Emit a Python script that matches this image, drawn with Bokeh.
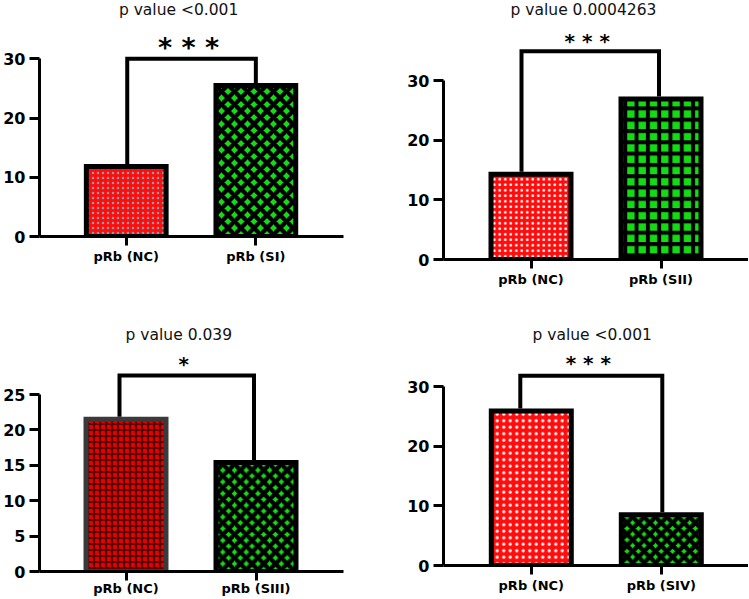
from bokeh.plotting import figure
from bokeh.layouts import column, row
from bokeh.models import Range1d, FixedTicker
from bokeh.core.properties import value
from bokeh.embed import file_html
from bokeh.resources import INLINE

# ---------------- data ----------------
categories_1 = ["pRb (NC)", "pRb (SI)"]
values_1 = [11.8, 25.5]
categories_2 = ["pRb (NC)", "pRb (SII)"]
values_2 = [14.3, 26.9]
categories_3 = ["pRb (NC)", "pRb (SIII)"]
values_3 = [21.5, 15.4]
categories_4 = ["pRb (NC)", "pRb (SIV)"]
values_4 = [25.9, 8.5]

y_ticks_1 = [0, 10, 20, 30]
y_ticks_2 = [0, 10, 20, 30]
y_ticks_3 = [0, 5, 10, 15, 20, 25]
y_ticks_4 = [0, 10, 20, 30]

titles = ["p value <0.001", "p value 0.0004263", "p value 0.039", "p value <0.001"]
stars = ["* * *", "* * *", "*", "* * *"]
bracket_heights = [30.0, 34.9, 27.7, 31.8]

# ---------------- styles / geometry ----------------
RED = "#ff0d0d"
GREEN = "#14dc14"
PITCH = 130.0          # px between category centres
BAR_PX = 80.0          # bar width in px (outline centre)
FONT = "DejaVu Sans"

# all pixel numbers are relative to each figure's top-left corner
geoms = [
    dict(w=370, h=300, fl=38, ay=236, tt=58.3, c0=125.0, xend=343, tx=177.5, ty=9, sy=42.7, ss=27,
         bdx=(1, 0), lso=3),
    dict(w=378, h=300, fl=73, ay=259, tt=80.0, c0=160.5, xend=None, tx=213, ty=9, sy=37.0, ss=20,
         bdx=(-9.5, -2), lso=3),
    dict(w=370, h=299, fl=39, ay=271, tt=94.0, c0=125.5, xend=343, tx=178.3, ty=34, sy=60, ss=20,
         bdx=(-6.5, -2), lso=0),
    dict(w=378, h=299, fl=73, ay=265, tt=86.0, c0=160.8, xend=None, tx=221.7, ty=34, sy=59.5, ss=20,
         bdx=(-11, 1), lso=3),
]

bar_styles = [
    [dict(fill_color=RED, hatch_pattern=".", hatch_color="#5fc8d8", hatch_alpha=0.8, hatch_scale=5, hatch_weight=0.3, line_color="#000000"),
     dict(fill_color=GREEN, hatch_pattern="x", hatch_color="#000000", hatch_scale=13, hatch_weight=4.3, line_color="#000000")],
    [dict(fill_color=RED, hatch_pattern=".", hatch_color="#ffffff", hatch_scale=5.5, hatch_weight=0.3, line_color="#000000"),
     dict(fill_color=GREEN, hatch_pattern="+", hatch_color="#000000", hatch_scale=11.3, hatch_weight=4, line_color="#000000")],
    [dict(fill_color="#e80000", hatch_pattern="+", hatch_color="#5a0000", hatch_scale=6, hatch_weight=2.2, line_color="#3a3a3a"),
     dict(fill_color=GREEN, hatch_pattern="x", hatch_color="#000000", hatch_scale=11.7, hatch_weight=4.3, line_color="#000000")],
    [dict(fill_color=RED, hatch_pattern=".", hatch_color="#ffffff", hatch_scale=6.5, hatch_weight=0.3, line_color="#000000"),
     dict(fill_color=GREEN, hatch_pattern="x", hatch_color="#000000", hatch_scale=11.4, hatch_weight=4.3, line_color="#000000")],
]


def style_axis(ax, size, tick_out, standoff):
    ax.axis_label = None
    ax.axis_label_standoff = 0
    ax.axis_line_width = 3
    ax.major_tick_line_width = 3
    ax.major_tick_out = tick_out
    ax.major_tick_in = 0
    ax.minor_tick_line_color = None
    ax.major_label_standoff = standoff
    ax.major_label_text_font = FONT
    ax.major_label_text_font_style = "bold"
    ax.major_label_text_font_size = size
    ax.major_label_text_color = "black"
    ax.major_label_text_line_height = 1.0


def make_panel(cats, vals, ticks, title, star, bracket, g, styles):
    tmax = ticks[-1]
    s = (g["ay"] - g["tt"]) / tmax            # px per unit
    x0 = -(g["c0"] - g["fl"]) / PITCH
    x1 = x0 + (g["w"] - g["fl"]) / PITCH
    y1 = g["ay"] / s

    p = figure(width=g["w"], height=g["h"], output_backend="svg", toolbar_location=None,
               x_range=Range1d(x0, x1), y_range=Range1d(0, y1),
               min_border_left=g["fl"], min_border_right=0, min_border_top=0,
               min_border_bottom=int(round(g["h"] - g["ay"])))
    p.frame_align = False
    p.title.visible = False
    p.outline_line_color = None
    p.grid.visible = False
    p.background_fill_color = "white"
    p.border_fill_color = "white"

    # bars
    for i, (v, st) in enumerate(zip(vals, styles)):
        p.vbar(x=[i], top=[v], bottom=0, width=BAR_PX / PITCH, line_width=5,
               line_join="miter", **st)

    # significance bracket
    dxl = g["bdx"][0] / PITCH
    dxr = g["bdx"][1] / PITCH
    gap = 2.5 / s
    p.line(x=[0 + dxl, 0 + dxl, 1 + dxr, 1 + dxr],
           y=[vals[0] + gap, bracket, bracket, vals[1] + gap],
           line_width=4, line_color="black", line_join="miter", line_cap="butt")

    # stars
    xm = 0.5 + (dxl + dxr) / 2 - 3 / PITCH
    p.text(x=[xm], y=[(g["ay"] - g["sy"]) / s], text=[star], text_font=value(FONT),
           text_font_style="bold", text_font_size=value(f"{g['ss']}px"),
           text_align="center", text_baseline="middle", text_color="black",
           y_offset=g["ss"] * 0.15)

    # title
    p.text(x=[(g["tx"] - g["c0"]) / PITCH], y=[(g["ay"] - g["ty"]) / s], text=[title],
           text_font=value(FONT), text_font_size=value("15.5px"), text_align="center",
           text_baseline="alphabetic", text_color="#111111")

    # axes
    ya = p.yaxis[0]
    ya.ticker = FixedTicker(ticks=ticks)
    ya.bounds = (0, tmax)
    style_axis(ya, "16px", 10, 4)

    xa = p.xaxis[0]
    xa.ticker = FixedTicker(ticks=[0, 1])
    xa.major_label_overrides = {0: cats[0], 1: cats[1]}
    if g["xend"] is not None:
        xa.bounds = (x0, (g["xend"] - g["c0"]) / PITCH)
    style_axis(xa, "13px", 9, g["lso"])
    return p


panels = []
data = [(categories_1, values_1, y_ticks_1), (categories_2, values_2, y_ticks_2),
        (categories_3, values_3, y_ticks_3), (categories_4, values_4, y_ticks_4)]
for k, (c, v, t) in enumerate(data):
    panels.append(make_panel(c, v, t, titles[k], stars[k], bracket_heights[k], geoms[k], bar_styles[k]))

layout = column(row(panels[0], panels[1]), row(panels[2], panels[3]))

open("out.html", "w").write(file_html(layout, INLINE))
